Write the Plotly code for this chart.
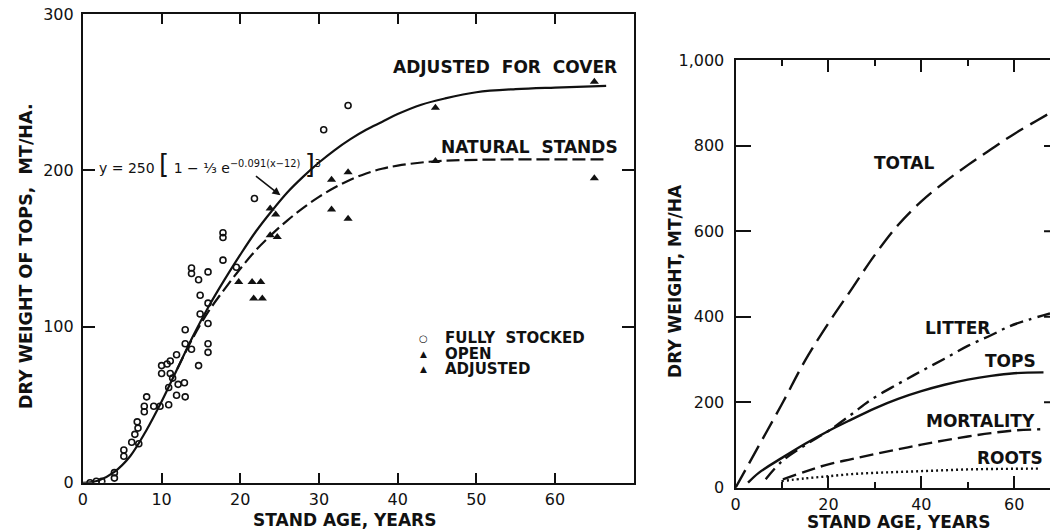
import plotly.graph_objects as go

FONT = "DejaVu Sans"
INK = "#111111"
W, H = 1050, 549

# ---------------- Left panel: tops biomass vs stand age ----------------
fully_age = [0.9, 1.7, 2.4, 4.0, 4.0, 5.2, 5.2, 6.2, 6.6, 7.1, 6.9, 7.0, 7.8, 7.8, 8.1,
             9.0, 9.8, 10.9, 10.0, 10.0, 10.7, 11.1, 11.9, 11.1, 11.4, 10.9, 12.1, 11.9,
             13.0, 12.9, 13.0, 13.0, 13.8, 13.8, 13.8, 14.7, 14.9, 14.9, 14.7, 15.9, 15.9,
             15.9, 15.9, 15.9, 17.8, 17.8, 17.8, 19.5, 21.8, 30.6, 33.7]
fully_tops = [0, 1, 1, 3, 6.5, 21, 17, 26, 31, 25, 39, 35, 45.5, 49, 55,
              49, 49, 50, 75, 70, 76, 78, 82, 70, 67, 61, 63, 56,
              55, 64, 89, 98, 85.5, 137.5, 134, 130, 120, 108, 75, 135, 115,
              102, 89, 83.5, 160, 157, 142.5, 138, 182, 226, 241.5]

open_age = [19.8, 21.5, 22.6, 21.7, 22.8, 23.8, 24.7, 31.6, 33.7, 44.8, 65.0]
open_tops = [128.6, 128.6, 128.6, 118, 118, 158.5, 157.4, 175, 169, 206, 195]

adjusted_age = [23.8, 24.5, 31.6, 33.7, 44.8, 65.0]
adjusted_tops = [175.5, 171.7, 194, 198.8, 240, 256.7]

cover_age = [0, 2, 4, 6, 8, 10, 12, 14, 16, 18, 20, 22, 24, 26, 28, 30, 32, 34, 36,
             38, 40, 43, 46, 50, 55, 60, 66.5]
cover_tops = [0, 1.5, 7, 17, 33, 52, 73, 94, 113, 130, 146, 161, 174, 186, 196, 205,
              213, 220, 226, 231, 236, 242, 246, 250, 252, 253, 254]

natural_age = [12, 14, 16, 18, 20, 22, 24, 26, 28, 30, 32, 34, 36, 38, 40, 44, 48,
               55, 66.6]
natural_tops = [73, 93, 110, 124, 137, 149, 159, 168, 176, 183, 189, 194, 198, 201,
                203, 205.5, 206.5, 207, 207]

legend_labels = ["FULLY  STOCKED", "OPEN", "ADJUSTED"]
legend_glyphs = ["○", "▲", "▲"]

# ---------------- Right panel: biomass components ----------------
total_age = [0, 5, 10, 15, 20, 25, 30, 35, 40, 45, 50, 55, 60, 65, 67.7]
total_wt = [0, 98, 196, 298, 385, 465, 545, 615, 670, 715, 755, 792, 828, 860, 877]

litter_age = [6.5, 10, 15, 20, 25, 29, 35, 40, 45, 50, 55, 59, 63, 67.7]
litter_wt = [20, 62, 100, 133, 172, 205, 243, 273, 302, 332, 357, 378, 393, 408]

tops_age = [2.7, 5, 10, 15, 20, 25, 30, 35, 40, 45, 50, 55, 60, 66.3]
tops_wt = [12, 35, 70, 103, 133, 160, 186, 208, 226, 241, 253, 262, 268, 270]

mortality_age = [10.2, 15, 20, 25, 30, 35, 40, 45, 50, 55, 60, 65.6]
mortality_wt = [19.5, 38, 55, 67, 79, 90, 101, 111, 120, 128, 134, 137]

roots_age = [9.9, 15, 20, 25, 30, 35, 40, 45, 50, 55, 60, 65.6]
roots_wt = [15.7, 22, 27, 32, 35, 37, 39, 41, 43, 44, 44.5, 45]

left_xticks = [0, 10, 20, 30, 40, 50, 60]
left_yticks = [0, 100, 200, 300]
right_xticks = [0, 20, 40, 60]
right_yticks = [0, 200, 400, 600, 800, 1000]
right_yticktext = ["0", "200", "400", "600", "800", "1,000"]

fig = go.Figure()

# observations
fig.add_trace(go.Scatter(
    x=fully_age, y=fully_tops, mode="markers", name="FULLY STOCKED", showlegend=False,
    marker=dict(symbol="circle-open", size=6, color=INK, line=dict(width=1.6, color=INK)),
    xaxis="x", yaxis="y"))
fig.add_trace(go.Scatter(
    x=open_age, y=open_tops, mode="markers", name="OPEN", showlegend=False,
    marker=dict(symbol="triangle-up", size=8, color=INK),
    xaxis="x", yaxis="y"))
fig.add_trace(go.Scatter(
    x=adjusted_age, y=adjusted_tops, mode="markers", name="ADJUSTED", showlegend=False,
    marker=dict(symbol="triangle-up", size=8, color=INK),
    xaxis="x", yaxis="y"))

# fitted growth curves
fig.add_trace(go.Scatter(
    x=cover_age, y=cover_tops, mode="lines", line_shape="spline", showlegend=False,
    line=dict(color=INK, width=2.2), xaxis="x", yaxis="y"))
fig.add_trace(go.Scatter(
    x=natural_age, y=natural_tops, mode="lines", line_shape="spline", showlegend=False,
    line=dict(color=INK, width=2.2, dash="13px,5px"), xaxis="x", yaxis="y"))

# component curves
curve_styles = [
    (total_age, total_wt, "20px,8px"),
    (litter_age, litter_wt, "14px,6px,3px,6px"),
    (tops_age, tops_wt, "solid"),
    (mortality_age, mortality_wt, "14px,6px"),
    (roots_age, roots_wt, "2px,3px"),
]
for ages, vals, dash in curve_styles:
    fig.add_trace(go.Scatter(
        x=ages, y=vals, mode="lines", line_shape="spline", showlegend=False,
        line=dict(color=INK, width=2.4, dash=dash), xaxis="x2", yaxis="y2"))

axis_common = dict(
    showline=True, linewidth=2, linecolor=INK,
    ticks="inside", tickwidth=2, tickcolor=INK, showgrid=False, zeroline=False,
    tickfont=dict(family=FONT, size=16, color=INK),
)


def px_x(px):
    return px / W


def px_y(py):
    # vertical page position, measured on the rendered page
    return (H - (py - 7.9) / 0.9654) / H


fig.update_layout(
    width=W, height=H, autosize=False,
    margin=dict(l=0, r=0, t=0, b=0),
    paper_bgcolor="white", plot_bgcolor="white",
    font=dict(family=FONT, color=INK),
    showlegend=False,
    xaxis=dict(domain=[px_x(78.3), px_x(631.7)], range=[0, 70], tickvals=left_xticks,
               ticklen=10, anchor="y", mirror="allticks", ticklabelstandoff=1,
               **axis_common),
    yaxis=dict(domain=[px_y(481.7), px_y(13)], range=[0, 300], tickvals=left_yticks,
               ticklen=12, anchor="x", mirror="allticks", ticklabelstandoff=4,
               **axis_common),
    xaxis2=dict(domain=[px_x(734), 1.0], range=[0, 67.7], tickvals=right_xticks,
                ticklen=12, anchor="y2", mirror="allticks", ticklabelstandoff=1,
                minor=dict(dtick=10, tick0=0, ticklen=6, ticks="inside",
                           tickwidth=2, tickcolor=INK),
                **axis_common),
    yaxis2=dict(domain=[px_y(486.7), px_y(59.3)], range=[0, 1000], tickvals=right_yticks,
                ticktext=right_yticktext, ticklen=15, anchor="x2", mirror=False,
                ticklabelstandoff=6, **axis_common),
)

# right-hand ticks of the right panel, at the edge of the page
for v in right_yticks[1:-1]:
    fig.add_shape(type="line", xref="paper", yref="y2", x0=1.0 - 6 / W, x1=1.0,
                  y0=v, y1=v, line=dict(color=INK, width=2))


def label(text, x, y, ref="", size=17, weight="bold", **kw):
    fig.add_annotation(text=text, x=x, y=y, xref="x" + ref, yref="y" + ref,
                       showarrow=False, xanchor="center", yanchor="middle",
                       font=dict(family=FONT, size=size, color=INK, weight=weight), **kw)


def page_label(text, px, py, angle=0, size=17, xanchor="center", weight="bold"):
    fig.add_annotation(text=text, x=px_x(px), y=px_y(py),
                       xref="paper", yref="paper", showarrow=False, textangle=angle,
                       xanchor=xanchor, yanchor="middle",
                       font=dict(family=FONT, size=size, color=INK, weight=weight))


# axis titles
page_label("STAND AGE, YEARS", 341, 519)
page_label("STAND AGE, YEARS", 898, 521)
page_label("DRY WEIGHT OF TOPS,  MT/HA.", 21, 255, angle=-90, size=17.5)
page_label("DRY WEIGHT, MT/HA", 673, 280, angle=-90)

# key for the observation symbols
for i, (glyph, text) in enumerate(zip(legend_glyphs, legend_labels)):
    row_y = 337 + i * 15.5
    page_label(glyph, 420, row_y, size=10 if glyph == "○" else 9, weight="normal")
    page_label(text, 440, row_y, size=15, xanchor="left")

# left panel curve labels
label("ADJUSTED  FOR  COVER", 53.6, 266)
label("NATURAL  STANDS", 56.8, 215)
label('y = 250 <span style="font-size:26px">[</span> 1 − ⅓ e<sup>−0.091(x−12)</sup>'
      ' <span style="font-size:26px">]</span><sup>3</sup>', 16.2, 204, size=14,
      weight="normal")
fig.add_annotation(x=25.1, y=184, ax=21.8, ay=197, xref="x", yref="y",
                   axref="x", ayref="y", text="", showarrow=True,
                   arrowhead=2, arrowsize=1, arrowwidth=1.6, arrowcolor=INK)

# right panel curve labels
label("TOTAL", 36.2, 759, ref="2")
label("LITTER", 47.8, 374, ref="2")
label("TOPS", 59.1, 296, ref="2")
label("MORTALITY", 52.7, 156, ref="2")
label("ROOTS", 59.1, 70, ref="2")

fig.write_html("out.html")
